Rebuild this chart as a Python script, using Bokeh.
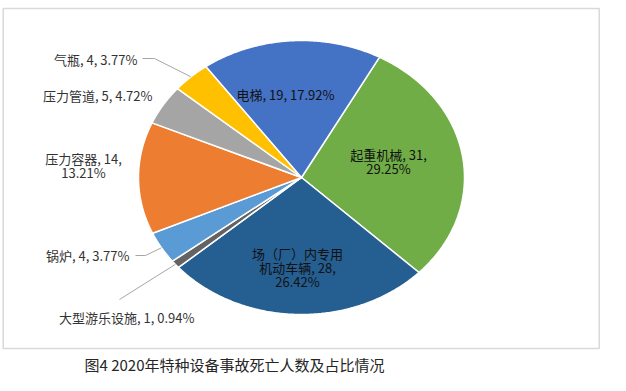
import numpy as np
from bokeh.plotting import figure
from bokeh.models import Range1d
from bokeh.embed import file_html
from bokeh.resources import INLINE
from bokeh.core.properties import value

# ---- data ----
categories = ["起重机械", "场（厂）内专用机动车辆", "大型游乐设施", "锅炉",
              "压力容器", "压力管道", "气瓶", "电梯"]
deaths = [31, 28, 1, 4, 14, 5, 4, 19]
caption = "图4 2020年特种设备事故死亡人数及占比情况"

# ---- style / layout ----
colors = ["#70AD47", "#255E91", "#636363", "#5B9BD5",
          "#ED7D31", "#A5A5A5", "#FFC000", "#4472C4"]
W, H = 610, 375
CX, CY, RX, RY = 301, 177, 163, 137
START_DEG = 28.6
FONT = value("Noto Sans CJK SC")
LINE_H = 14
# wrap: 0 = single line, 1 = break before percent, 2 = also break name after 7 chars
wrap = [1, 2, 0, 0, 1, 0, 0, 0]
label_pos = [(388, 154, "center"), (297, 253, "center"), (194, 317, "right"),
             (129, 255, "right"), (83, 158, "center"), (152, 95, "right"),
             (137, 59, "right"), (285, 94, "center")]
inside = [True, True, False, False, False, False, False, True]
# leader line start points (label side) for labels that have one
leaders = {6: [(142, 58), (154, 58)], 3: [(135, 255), (145, 255)], 2: [(119, 299)]}

total = sum(deaths)
p = figure(width=W, height=H, x_range=Range1d(0, W), y_range=Range1d(H, 0),
           output_backend="svg", toolbar_location=None, min_border=0)
p.axis.visible = False
p.grid.visible = False
p.outline_line_color = None
p.background_fill_color = "white"

# frame
p.quad(left=[2.7], right=[598.7], top=[8], bottom=[348], fill_color=None,
       line_color="#D9D9D9", line_width=1.5)

def pt(a_deg):
    a = np.radians(a_deg)
    return CX + RX * np.sin(a), CY - RY * np.cos(a)

cum = 0
xs_all, ys_all, mids = [], [], []
for v in deaths:
    a0 = START_DEG + cum / total * 360
    a1 = START_DEG + (cum + v) / total * 360
    n = max(4, int((a1 - a0) * 2))
    angs = np.linspace(a0, a1, n)
    ex, ey = pt(angs)
    xs_all.append([CX] + list(ex) + [CX])
    ys_all.append([CY] + list(ey) + [CY])
    mids.append((a0 + a1) / 2)
    cum += v

p.patches(xs_all, ys_all, fill_color=colors, line_color="white", line_width=1.5)

# leaders
for i, pts in leaders.items():
    ex, ey = pt(mids[i])
    lx = [q[0] for q in pts] + [ex]
    ly = [q[1] for q in pts] + [ey]
    p.line(lx, ly, line_color="#A6A6A6", line_width=1)

# labels
for i, (c, v) in enumerate(zip(categories, deaths)):
    pct = f"{v / total * 100:.2f}%"
    if wrap[i] == 0:
        lines = [f"{c}, {v}, {pct}"]
    elif wrap[i] == 1:
        lines = [f"{c}, {v},", pct]
    else:
        lines = [c[:7], f"{c[7:]}, {v},", pct]
    x, y, al = label_pos[i]
    col = "#111111" if inside[i] else "#333333"
    p.text(x=[x] * len(lines), y=[y + k * LINE_H for k in range(len(lines))],
           text=lines, text_font=FONT, text_font_size="13px",
           text_align=al, text_baseline="middle", text_color=col)

# caption
p.text(x=[84], y=[364], text=[caption], text_font=FONT, text_font_size="15px",
       text_align="left", text_baseline="middle", text_color="#262626")

open("out.html", "w").write(file_html(p, INLINE))
